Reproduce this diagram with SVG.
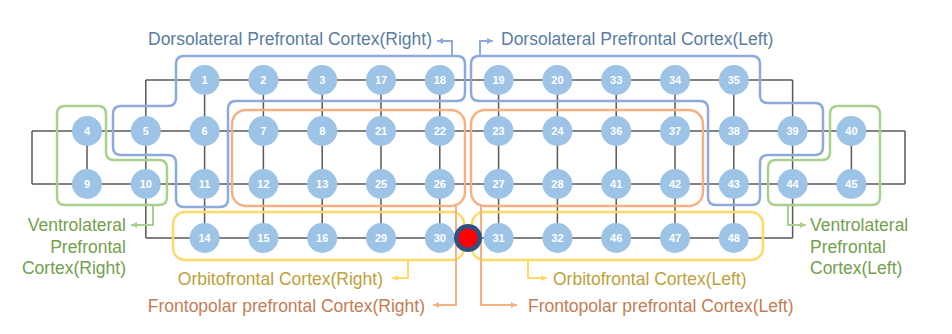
<svg xmlns="http://www.w3.org/2000/svg" width="952" height="334" viewBox="0 0 952 334">
<style>
.grid{fill:none;stroke:#595959;stroke-width:1.5}
.node circle{fill:#9dc3e6}
.node text{fill:#ffffff;font-family:"Liberation Sans",Arial,sans-serif;font-size:11px;font-weight:bold;text-anchor:middle}
.reg{fill:none;stroke-width:2.5}
.blue{stroke:#8eaadb}
.green{stroke:#a9d18e}
.orange{stroke:#f4b183}
.yellow{stroke:#ffd966}
.lbl{font-family:"Liberation Sans",Arial,sans-serif;font-size:17.5px}
.tb{fill:#5a7ca3}
.tg{fill:#72a04e}
.ty{fill:#bea03c}
.to{fill:#c37d55}
.cn{fill:none;stroke-width:2}
</style>
<defs>
<marker id="ab" viewBox="0 0 6 6" refX="6" refY="3" markerWidth="6" markerHeight="6" markerUnits="userSpaceOnUse" orient="auto"><path d="M0,0 L6,3 L0,6 z" fill="#8eaadb"/></marker>
<marker id="ag" viewBox="0 0 6 6" refX="6" refY="3" markerWidth="6" markerHeight="6" markerUnits="userSpaceOnUse" orient="auto"><path d="M0,0 L6,3 L0,6 z" fill="#a9d18e"/></marker>
<marker id="ay" viewBox="0 0 6 6" refX="6" refY="3" markerWidth="6" markerHeight="6" markerUnits="userSpaceOnUse" orient="auto"><path d="M0,0 L6,3 L0,6 z" fill="#ffd966"/></marker>
<marker id="ao" viewBox="0 0 6 6" refX="6" refY="3" markerWidth="6" markerHeight="6" markerUnits="userSpaceOnUse" orient="auto"><path d="M0,0 L6,3 L0,6 z" fill="#f4b183"/></marker>
</defs>
<rect width="952" height="334" fill="#ffffff"/>
<g id="connectors">
<path class="grid" d="M145.8,80 H792.6 M32,131 H905 M32,184 H905 M145.8,238 H792.6 M32,131 V184 M905,131 V184 M87,131 V184 M851.4,131 V184 M145.8,80 V238 M204.6,80 V238 M263.4,80 V238 M322.2,80 V238 M381,80 V238 M439.8,80 V238 M498.6,80 V238 M557.4,80 V238 M616.2,80 V238 M675,80 V238 M733.8,80 V238 M792.6,80 V238"/>
</g>
<g id="nodes">
<g id="n1" class="node"><circle cx="204.6" cy="80" r="15"/><text x="204.6" y="84">1</text></g>
<g id="n2" class="node"><circle cx="263.4" cy="80" r="15"/><text x="263.4" y="84">2</text></g>
<g id="n3" class="node"><circle cx="322.2" cy="80" r="15"/><text x="322.2" y="84">3</text></g>
<g id="n17" class="node"><circle cx="381" cy="80" r="15"/><text x="381" y="84">17</text></g>
<g id="n18" class="node"><circle cx="439.8" cy="80" r="15"/><text x="439.8" y="84">18</text></g>
<g id="n19" class="node"><circle cx="498.6" cy="80" r="15"/><text x="498.6" y="84">19</text></g>
<g id="n20" class="node"><circle cx="557.4" cy="80" r="15"/><text x="557.4" y="84">20</text></g>
<g id="n33" class="node"><circle cx="616.2" cy="80" r="15"/><text x="616.2" y="84">33</text></g>
<g id="n34" class="node"><circle cx="675" cy="80" r="15"/><text x="675" y="84">34</text></g>
<g id="n35" class="node"><circle cx="733.8" cy="80" r="15"/><text x="733.8" y="84">35</text></g>
<g id="n4" class="node"><circle cx="87" cy="131" r="15"/><text x="87" y="135">4</text></g>
<g id="n5" class="node"><circle cx="145.8" cy="131" r="15"/><text x="145.8" y="135">5</text></g>
<g id="n6" class="node"><circle cx="204.6" cy="131" r="15"/><text x="204.6" y="135">6</text></g>
<g id="n7" class="node"><circle cx="263.4" cy="131" r="15"/><text x="263.4" y="135">7</text></g>
<g id="n8" class="node"><circle cx="322.2" cy="131" r="15"/><text x="322.2" y="135">8</text></g>
<g id="n21" class="node"><circle cx="381" cy="131" r="15"/><text x="381" y="135">21</text></g>
<g id="n22" class="node"><circle cx="439.8" cy="131" r="15"/><text x="439.8" y="135">22</text></g>
<g id="n23" class="node"><circle cx="498.6" cy="131" r="15"/><text x="498.6" y="135">23</text></g>
<g id="n24" class="node"><circle cx="557.4" cy="131" r="15"/><text x="557.4" y="135">24</text></g>
<g id="n36" class="node"><circle cx="616.2" cy="131" r="15"/><text x="616.2" y="135">36</text></g>
<g id="n37" class="node"><circle cx="675" cy="131" r="15"/><text x="675" y="135">37</text></g>
<g id="n38" class="node"><circle cx="733.8" cy="131" r="15"/><text x="733.8" y="135">38</text></g>
<g id="n39" class="node"><circle cx="792.6" cy="131" r="15"/><text x="792.6" y="135">39</text></g>
<g id="n40" class="node"><circle cx="851.4" cy="131" r="15"/><text x="851.4" y="135">40</text></g>
<g id="n9" class="node"><circle cx="87" cy="184" r="15"/><text x="87" y="188">9</text></g>
<g id="n10" class="node"><circle cx="145.8" cy="184" r="15"/><text x="145.8" y="188">10</text></g>
<g id="n11" class="node"><circle cx="204.6" cy="184" r="15"/><text x="204.6" y="188">11</text></g>
<g id="n12" class="node"><circle cx="263.4" cy="184" r="15"/><text x="263.4" y="188">12</text></g>
<g id="n13" class="node"><circle cx="322.2" cy="184" r="15"/><text x="322.2" y="188">13</text></g>
<g id="n25" class="node"><circle cx="381" cy="184" r="15"/><text x="381" y="188">25</text></g>
<g id="n26" class="node"><circle cx="439.8" cy="184" r="15"/><text x="439.8" y="188">26</text></g>
<g id="n27" class="node"><circle cx="498.6" cy="184" r="15"/><text x="498.6" y="188">27</text></g>
<g id="n28" class="node"><circle cx="557.4" cy="184" r="15"/><text x="557.4" y="188">28</text></g>
<g id="n41" class="node"><circle cx="616.2" cy="184" r="15"/><text x="616.2" y="188">41</text></g>
<g id="n42" class="node"><circle cx="675" cy="184" r="15"/><text x="675" y="188">42</text></g>
<g id="n43" class="node"><circle cx="733.8" cy="184" r="15"/><text x="733.8" y="188">43</text></g>
<g id="n44" class="node"><circle cx="792.6" cy="184" r="15"/><text x="792.6" y="188">44</text></g>
<g id="n45" class="node"><circle cx="851.4" cy="184" r="15"/><text x="851.4" y="188">45</text></g>
<g id="n14" class="node"><circle cx="204.6" cy="238" r="15"/><text x="204.6" y="242">14</text></g>
<g id="n15" class="node"><circle cx="263.4" cy="238" r="15"/><text x="263.4" y="242">15</text></g>
<g id="n16" class="node"><circle cx="322.2" cy="238" r="15"/><text x="322.2" y="242">16</text></g>
<g id="n29" class="node"><circle cx="381" cy="238" r="15"/><text x="381" y="242">29</text></g>
<g id="n30" class="node"><circle cx="439.8" cy="238" r="15"/><text x="439.8" y="242">30</text></g>
<g id="n31" class="node"><circle cx="498.6" cy="238" r="15"/><text x="498.6" y="242">31</text></g>
<g id="n32" class="node"><circle cx="557.4" cy="238" r="15"/><text x="557.4" y="242">32</text></g>
<g id="n46" class="node"><circle cx="616.2" cy="238" r="15"/><text x="616.2" y="242">46</text></g>
<g id="n47" class="node"><circle cx="675" cy="238" r="15"/><text x="675" y="242">47</text></g>
<g id="n48" class="node"><circle cx="733.8" cy="238" r="15"/><text x="733.8" y="242">48</text></g>
</g>
<g id="regions">
<path id="dlpfc-right" class="reg blue" d="M184,56 H457 Q465,56 465,64 V93 Q465,101 457,101 H236 Q228,101 228,109 V199 Q228,207 220,207 H184 Q176,207 176,199 V163 Q176,155 168,155 H121 Q113,155 113,147 V114 Q113,106 121,106 H168 Q176,106 176,98 V64 Q176,56 184,56 Z"/>
<path id="dlpfc-left" class="reg blue" d="M479,56 H752 Q760,56 760,64 V95 Q760,103 768,103 H815 Q823,103 823,111 V147 Q823,155 815,155 H768 Q760,155 760,163 V197 Q760,205 752,205 H716 Q708,205 708,197 V109 Q708,101 700,101 H479 Q471,101 471,93 V64 Q471,56 479,56 Z"/>
<path id="vlpfc-right" class="reg green" d="M65,106 H98 Q106,106 106,114 V152 Q106,160 114,160 H159 Q167,160 167,168 V197 Q167,205 159,205 H65 Q57,205 57,197 V114 Q57,106 65,106 Z"/>
<path id="vlpfc-left" class="reg green" d="M838,106 H872 Q880,106 880,114 V197 Q880,205 872,205 H776 Q768,205 768,197 V168 Q768,160 776,160 H822 Q830,160 830,152 V114 Q830,106 838,106 Z"/>
<rect id="fppfc-right" class="reg orange" x="232" y="110" width="233" height="96" rx="14"/>
<rect id="fppfc-left" class="reg orange" x="471" y="110" width="232" height="96" rx="14"/>
<rect id="ofc-right" class="reg yellow" x="173" y="212" width="291" height="48" rx="12"/>
<rect id="ofc-left" class="reg yellow" x="472" y="212" width="291" height="48" rx="12"/>
</g>
<g id="label-connectors">
<path class="cn blue" d="M452,56 V41 H437" marker-end="url(#ab)"/>
<path class="cn blue" d="M480,56 V41 H493" marker-end="url(#ab)"/>
<path class="cn green" d="M153,205 V225 H131" marker-end="url(#ag)"/>
<path class="cn green" d="M788,205 V225 H806" marker-end="url(#ag)"/>
<path class="cn yellow" d="M408,260 V278 H392" marker-end="url(#ay)"/>
<path class="cn yellow" d="M528,260 V278 H547" marker-end="url(#ay)"/>
<path class="cn orange" d="M456,206 V305 H433" marker-end="url(#ao)"/>
<path class="cn orange" d="M481,206 V305 H517" marker-end="url(#ao)"/>
</g>
<g id="marker-dot">
<circle cx="468" cy="238" r="14" fill="#2f5282"/>
<circle cx="468" cy="238" r="9.5" fill="#ff0000"/>
</g>
<g id="labels">
<text class="lbl tb" x="432" y="45" text-anchor="end">Dorsolateral Prefrontal Cortex(Right)</text>
<text class="lbl tb" x="501" y="45">Dorsolateral Prefrontal Cortex(Left)</text>
<text class="lbl tg" text-anchor="end"><tspan x="126" y="231">Ventrolateral</tspan><tspan x="126" y="253">Prefrontal</tspan><tspan x="126" y="274">Cortex(Right)</tspan></text>
<text class="lbl tg"><tspan x="810" y="231">Ventrolateral</tspan><tspan x="810" y="253">Prefrontal</tspan><tspan x="810" y="274">Cortex(Left)</tspan></text>
<text class="lbl ty" x="383" y="285" text-anchor="end">Orbitofrontal Cortex(Right)</text>
<text class="lbl ty" x="553" y="285">Orbitofrontal Cortex(Left)</text>
<text class="lbl to" x="425" y="312" text-anchor="end">Frontopolar prefrontal Cortex(Right)</text>
<text class="lbl to" x="528" y="312">Frontopolar prefrontal Cortex(Left)</text>
</g>
</svg>
